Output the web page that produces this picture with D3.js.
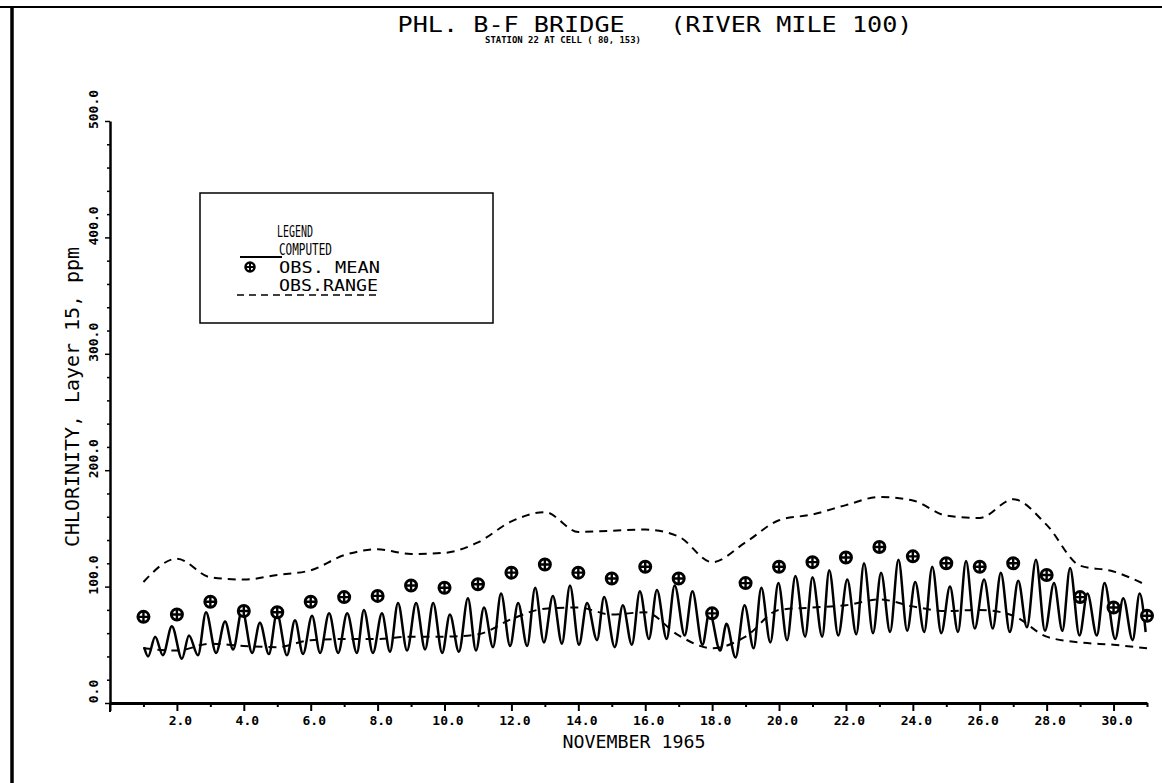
<!DOCTYPE html>
<html>
<head>
<meta charset="utf-8">
<script src="https://cdn.jsdelivr.net/npm/d3@7/dist/d3.min.js"></script>
<style>
body { margin: 0; background: #fff; }
svg { display: block; }
text { font-family: "DejaVu Sans Mono", monospace; fill: #000; white-space: pre; }
</style>
</head>
<body>
<svg id="chart" width="1162" height="783"></svg>
<script>
// observed daily values, November 1965
var obsDays = [1,2,3,4,5,6,7,8,9,10,11,12,13,14,15,16,17,18,19,20,21,22,23,24,25,26,27,28,29,30,31];
var obsMean = [74,76,87,79,78,87,91,92,101,99,102,112,119,112,107,117,107,77,103,117,121,125,134,126,120,117,120,110,91,82,75];
var obsHigh = [104,124,108,106,110,114,127,132,128,129,138,156,164,147,148,149,143,121,138,157,162,170,177,174,161,159,175,153,118,113,101];
var obsLow  = [47,45,51,49,48,54,55,55,57,57,59,72,81,82,76,78,58,47,57,80,82,84,89,83,79,80,75,57,52,50,47];

// computed tide: successive highs and lows (day, ppm)
var compDay = [1.02,1.14,1.35,1.58,1.85,2.15,2.36,2.63,2.87,3.17,3.44,3.68,3.95,4.25,4.48,4.75,4.99,5.29,5.53,5.77,
	6.04,6.28,6.55,6.82,7.09,7.38,7.59,7.86,8.13,8.37,8.61,8.88,9.15,9.42,9.66,9.93,10.16,10.43,10.70,10.94,
	11.18,11.45,11.69,11.96,12.20,12.47,12.71,12.97,13.24,13.51,13.75,14.02,14.26,14.56,
	14.77,15.09,15.33,15.60,15.84,16.11,16.35,16.64,16.88,17.18,17.41,17.71,17.92,18.24,18.43,18.70,
	18.97,19.24,19.47,19.74,19.98,20.24,20.49,20.78,21.00,21.29,21.50,21.77,22.04,22.31,22.54,22.81,
	23.05,23.32,23.57,23.83,24.07,24.34,24.58,24.85,25.11,25.35,25.59,25.85,26.13,26.39,26.63,26.90,
	27.15,27.41,27.68,27.95,28.22,28.47,28.70,28.98,29.22,29.50,29.73,30.05,30.29,30.57,30.78,30.96];
var compVal = [48,40,57,41,66,38,58,41,78,43,70,46,80,43,69,42,77,41,71,42,
	75,43,77,43,77,43,80,43,77,44,86,45,86,46,86,43,76,44,90,45,
	82,48,94,49,86,49,99,52,92,51,101,50,86,54,
	91,48,84,50,96,55,97,55,101,58,96,50,78,45,68,39,
	84,47,99,52,103,54,109,57,108,57,114,58,106,59,120,60,
	112,61,123,62,104,61,117,60,100,61,122,64,106,64,112,61,
	105,65,123,62,103,62,116,58,94,58,103,55,90,54,94,61];

var xMajor = [0,2,4,6,8,10,12,14,16,18,20,22,24,26,28,30];
var xMinor = [1,3,5,7,9,11,13,15,17,19,21,23,25,27,29,31];
var yMajor = [0,100,200,300,400,500];
var yMinor = [20,40,60,80,120,140,160,180,220,240,260,280,320,340,360,380,420,440,460,480];

var svg = d3.select("#chart");

var x = d3.scaleLinear().domain([0, 31]).range([110, 1147]),
	y = d3.scaleLinear().domain([0, 500]).range([703, 121]);

// frame of the plot sheet
svg.append("line").attr("x1", 0).attr("x2", 1162).attr("y1", 7).attr("y2", 7)
	.attr("stroke", "#000").attr("stroke-width", 2);
svg.append("line").attr("x1", 12).attr("x2", 12).attr("y1", 6).attr("y2", 783)
	.attr("stroke", "#000").attr("stroke-width", 3.5);

// titles
svg.append("text").attr("x", 655).attr("y", 32)
	.attr("text-anchor", "middle").attr("font-size", 21)
	.attr("textLength", 515).attr("lengthAdjust", "spacingAndGlyphs")
	.text("PHL. B-F BRIDGE   (RIVER MILE 100)");
svg.append("text").attr("x", 563).attr("y", 43)
	.attr("text-anchor", "middle").attr("font-size", 9).attr("font-weight", "bold")
	.attr("textLength", 156).attr("lengthAdjust", "spacingAndGlyphs")
	.text("STATION 22 AT CELL ( 80, 153)");

// x axis
var gx = svg.append("g").attr("transform", "translate(0,703)");
gx.call(d3.axisBottom(x).tickValues(xMajor).tickSize(8).tickSizeOuter(0)
	.tickFormat(function(d) { return d === 0 ? "" : d3.format(".1f")(d); }));
gx.append("g").call(d3.axisBottom(x).tickValues(xMinor).tickSize(4).tickFormat(""))
	.select(".domain").remove();
gx.selectAll("path.domain").attr("stroke-width", 3);
gx.selectAll(".tick line").attr("stroke-width", 2);
gx.selectAll(".tick text")
	.attr("dx", 3).attr("y", 13)
	.attr("font-family", "DejaVu Sans Mono").attr("font-weight", "bold").attr("font-size", 13);

svg.append("text").attr("x", 634).attr("y", 748)
	.attr("text-anchor", "middle").attr("font-size", 17)
	.attr("textLength", 143).attr("lengthAdjust", "spacingAndGlyphs")
	.text("NOVEMBER 1965");

// y axis
var gy = svg.append("g").attr("transform", "translate(110,0)");
gy.call(d3.axisLeft(y).tickValues(yMajor).tickSize(5).tickSizeOuter(0)
	.tickFormat(d3.format(".1f")));
gy.append("g").call(d3.axisLeft(y).tickValues(yMinor).tickSize(3).tickFormat(""))
	.select(".domain").remove();
gy.selectAll("path.domain").attr("stroke-width", 2.5);
gy.selectAll(".tick line").attr("stroke-width", 1.5);
gy.selectAll(".tick text")
	.attr("x", null).attr("dy", null)
	.attr("transform", "translate(-17,-12) rotate(-90)")
	.attr("text-anchor", "middle").attr("dominant-baseline", "central")
	.attr("font-family", "DejaVu Sans Mono").attr("font-weight", "bold").attr("font-size", 13);
// axis stub below the origin
svg.append("line").attr("x1", 110).attr("x2", 110).attr("y1", 703).attr("y2", 712)
	.attr("stroke", "#000").attr("stroke-width", 2);

svg.append("text")
	.attr("transform", "translate(79,397) rotate(-90)")
	.attr("text-anchor", "middle").attr("font-size", 19)
	.attr("textLength", 300).attr("lengthAdjust", "spacingAndGlyphs")
	.text("CHLORINITY, Layer 15, ppm");

// observed range
var rangeLine = d3.line()
	.x(function(d, i) { return x(obsDays[i]); })
	.y(function(d) { return y(d); })
	.curve(d3.curveMonotoneX);

svg.selectAll("path.range")
	.data([obsHigh, obsLow])
	.enter().append("path")
	.attr("class", "range")
	.attr("d", rangeLine)
	.attr("fill", "none")
	.attr("stroke", "#000")
	.attr("stroke-width", 2)
	.attr("stroke-dasharray", "8,6");

// computed
var compLine = d3.line()
	.x(function(d, i) { return x(compDay[i]); })
	.y(function(d) { return y(d); })
	.curve(d3.curveMonotoneX);

svg.append("path")
	.datum(compVal)
	.attr("d", compLine)
	.attr("fill", "none")
	.attr("stroke", "#000")
	.attr("stroke-width", 2.5)
	.attr("stroke-linejoin", "round");

// observed means, circled plus
var marker = function(sel, r, w) {
	sel.append("circle").attr("r", r)
		.attr("fill", "#fff").attr("stroke", "#000").attr("stroke-width", w);
	sel.append("path").attr("d", "M" + (-r) + ",0H" + r + "M0," + (-r) + "V" + r)
		.attr("stroke", "#000").attr("stroke-width", w * 0.8);
};

svg.selectAll("g.mean")
	.data(obsMean)
	.enter().append("g")
	.attr("class", "mean")
	.attr("transform", function(d, i) { return "translate(" + x(obsDays[i]) + "," + y(d) + ")"; })
	.call(marker, 5.5, 3);

// legend
var lg = svg.append("g");
lg.append("rect").attr("x", 200).attr("y", 193).attr("width", 293).attr("height", 130)
	.attr("fill", "#fff").attr("stroke", "#000").attr("stroke-width", 1.5);
var legendText = [
	{t: "LEGEND", x: 277, y: 237, w: 36},
	{t: "COMPUTED", x: 279, y: 255, w: 53},
	{t: "OBS. MEAN", x: 279, y: 273, w: 101},
	{t: "OBS.RANGE", x: 279, y: 291, w: 99}
];
lg.selectAll("text").data(legendText).enter().append("text")
	.attr("x", function(d) { return d.x; })
	.attr("y", function(d) { return d.y; })
	.attr("font-size", 15.5)
	.attr("textLength", function(d) { return d.w; })
	.attr("lengthAdjust", "spacingAndGlyphs")
	.text(function(d) { return d.t; });
lg.append("line").attr("x1", 240).attr("x2", 282).attr("y1", 257).attr("y2", 257)
	.attr("stroke", "#000").attr("stroke-width", 2);
lg.append("g").attr("transform", "translate(250,267)").call(marker, 4.5, 2.5);
lg.append("line").attr("x1", 237).attr("x2", 377).attr("y1", 295).attr("y2", 295)
	.attr("stroke", "#000").attr("stroke-width", 1.5).attr("stroke-dasharray", "7,5");
</script>
</body>
</html>
